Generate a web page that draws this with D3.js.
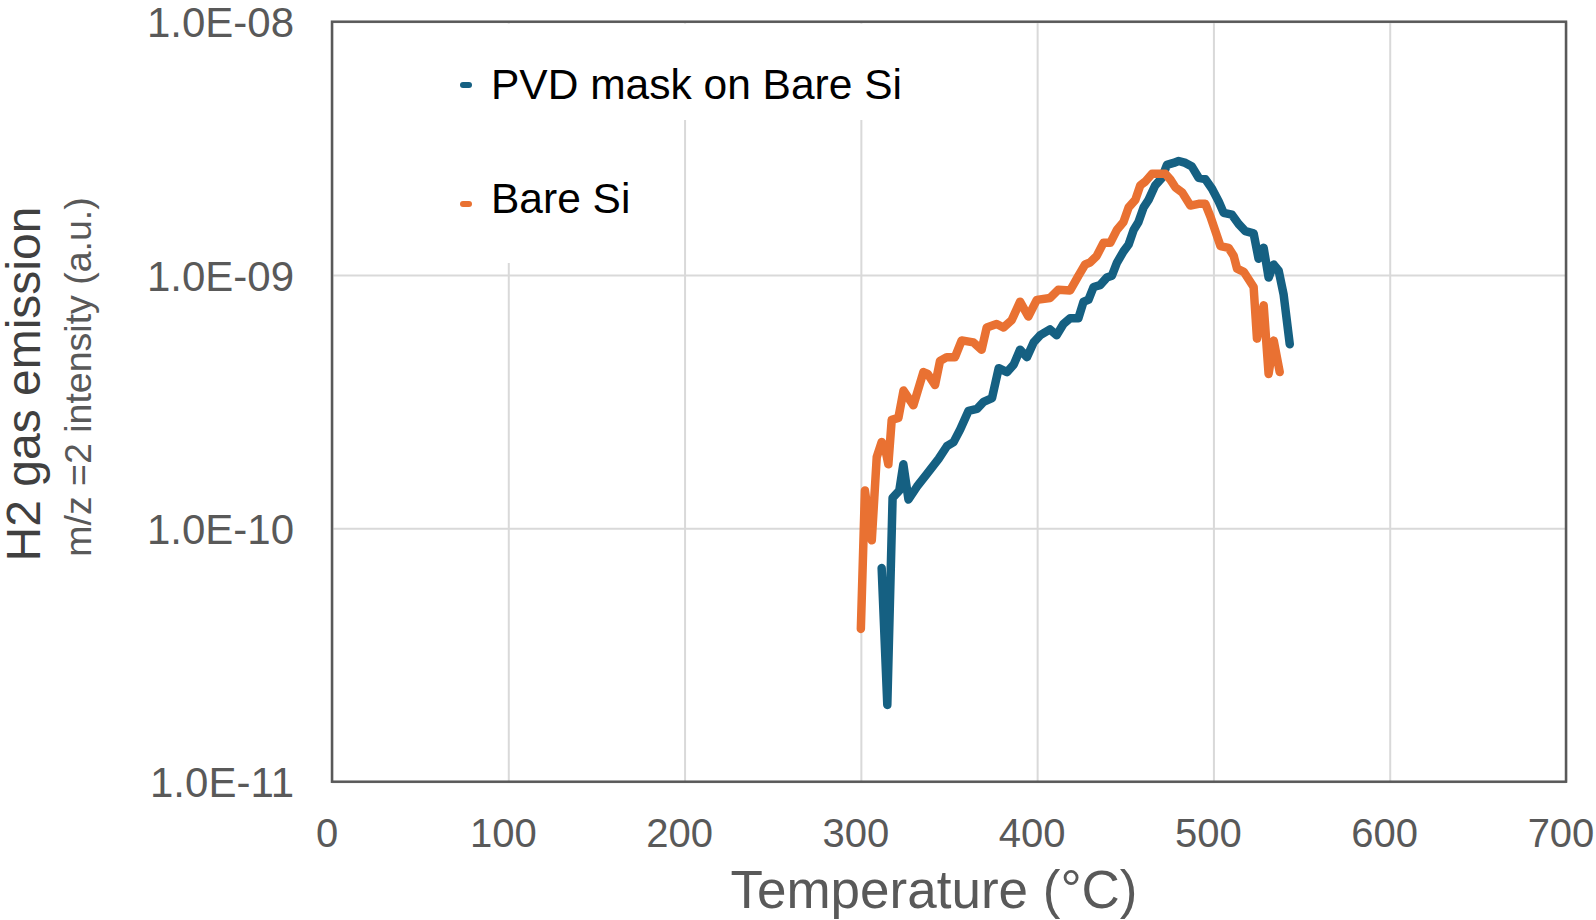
<!DOCTYPE html>
<html>
<head>
<meta charset="utf-8">
<script src="https://cdn.jsdelivr.net/npm/d3@7"></script>
<style>
	body { margin: 0; background: #fff; }
	svg text { font-family: Arial, "Liberation Sans", sans-serif; }
</style>
</head>
<body>
<div class="vis"></div>
<script>
// series: temperature (°C) and m/z=2 intensity (a.u.)
var bareTemp = [300, 302.3, 306.2, 309, 311.8, 313.5, 315.6, 317.5, 321.3, 324.2, 329.8, 335.5, 337.9, 342.1, 344.9,
	348.7, 353.4, 357.2, 363.8, 368.5, 371.4, 377, 380.9, 385.6, 390.3, 395, 399.8, 407.3, 412, 418.7, 423.4, 427.2,
	430, 433.8, 437.6, 441.5, 445.3, 449, 451.9, 455.7, 458.5, 461.4, 465.2, 469.9, 472.7, 475.6, 478.4, 482.2,
	486.9, 491.6, 495.4, 498.3, 504, 508.6, 511.5, 513.4, 517.2, 522.8, 524.7, 528.5, 531.3, 534.2, 537.6];
var bareVal = [4.01e-11, 1.41e-10, 8.97e-11, 1.91e-10, 2.19e-10, 2.11e-10, 1.79e-10, 2.68e-10, 2.73e-10, 3.50e-10,
	3.06e-10, 4.14e-10, 4.07e-10, 3.68e-10, 4.58e-10, 4.74e-10, 4.74e-10, 5.52e-10, 5.42e-10, 5.07e-10, 6.21e-10,
	6.41e-10, 6.21e-10, 6.64e-10, 7.85e-10, 6.86e-10, 7.98e-10, 8.11e-10, 8.75e-10, 8.69e-10, 9.93e-10, 1.10e-9,
	1.12e-9, 1.19e-9, 1.34e-9, 1.34e-9, 1.51e-9, 1.62e-9, 1.85e-9, 1.98e-9, 2.26e-9, 2.34e-9, 2.51e-9, 2.51e-9,
	2.51e-9, 2.38e-9, 2.22e-9, 2.12e-9, 1.88e-9, 1.91e-9, 1.91e-9, 1.70e-9, 1.30e-9, 1.28e-9, 1.19e-9, 1.06e-9,
	1.03e-9, 8.97e-10, 5.61e-10, 7.59e-10, 4.07e-10, 5.51e-10, 4.14e-10];

var pvdTemp = [311.8, 315, 318, 321.8, 324.1, 327, 331.8, 337.5, 344.1, 348.8, 352.6, 356.4, 361.1, 365.9, 369.6,
	374.4, 378.2, 382.9, 386.7, 390.3, 394.2, 398, 401.8, 407.3, 411.1, 414.9, 418.7, 423.4, 426.3, 429.1, 432,
	435.7, 439.5, 442.4, 445.3, 449, 451.9, 454.8, 457.5, 460.4, 463.2, 467, 470.8, 473.6, 477.4, 480.3, 484.1,
	487.8, 491.6, 495.4, 499.2, 503, 505.8, 510.5, 514.3, 518.1, 522.8, 525.6, 528.5, 531.3, 534.2, 537, 539.8, 543.3];
var pvdVal = [6.97e-11, 2.01e-11, 1.32e-10, 1.41e-10, 1.79e-10, 1.30e-10, 1.46e-10, 1.64e-10, 1.88e-10, 2.11e-10,
	2.19e-10, 2.46e-10, 2.91e-10, 2.96e-10, 3.16e-10, 3.27e-10, 4.29e-10, 4.14e-10, 4.43e-10, 5.07e-10, 4.74e-10,
	5.42e-10, 5.79e-10, 6.10e-10, 5.79e-10, 6.41e-10, 6.75e-10, 6.75e-10, 7.85e-10, 7.98e-10, 8.97e-10, 9.12e-10,
	9.77e-10, 9.93e-10, 1.12e-9, 1.24e-9, 1.32e-9, 1.51e-9, 1.62e-9, 1.85e-9, 1.98e-9, 2.26e-9, 2.42e-9, 2.72e-9,
	2.77e-9, 2.82e-9, 2.77e-9, 2.68e-9, 2.42e-9, 2.39e-9, 2.19e-9, 1.95e-9, 1.76e-9, 1.73e-9, 1.59e-9, 1.49e-9,
	1.46e-9, 1.16e-9, 1.28e-9, 9.77e-10, 1.10e-9, 1.04e-9, 8.39e-10, 5.33e-10];

var xTicks = [0, 100, 200, 300, 400, 500, 600, 700];
var yTicks = [1e-11, 1e-10, 1e-9, 1e-8];
var seriesNames = ['PVD mask on Bare Si', 'Bare Si'];
var seriesColors = ['#156082', '#e97132'];

var margin = {top: 21.7, right: 30, bottom: 138.3, left: 332};
var width = 1596 - margin.left - margin.right,
	height = 920 - margin.top - margin.bottom;

var svg = d3.select('.vis').append('svg')
	.attr('width', 1596)
	.attr('height', 920);

var chart = svg.append('g')
	.attr('transform', 'translate(' + margin.left + ',' + margin.top + ')');

var scaleX = d3.scaleLinear().domain([0, 700]).range([0, width]);
var scaleY = d3.scaleLog().domain([1e-11, 1e-8]).range([height, 0]);

// gridlines
chart.append('g')
	.attr('class', 'grid')
	.attr('transform', 'translate(0,' + height + ')')
	.call(d3.axisBottom(scaleX).tickValues(xTicks).tickSize(-height).tickFormat(''));
chart.append('g')
	.attr('class', 'grid')
	.call(d3.axisLeft(scaleY).tickValues(yTicks).tickSize(-width).tickFormat(''));
chart.selectAll('.grid .domain').remove();
chart.selectAll('.grid line')
	.attr('stroke', '#d9d9d9')
	.attr('stroke-width', 2);

// legend boxes hide the gridlines behind the entries
chart.append('rect')
	.attr('x', 440 - margin.left).attr('y', 2)
	.attr('width', 470).attr('height', 118 - margin.top)
	.attr('fill', '#fff');
chart.append('rect')
	.attr('x', 440 - margin.left).attr('y', 118 - margin.top)
	.attr('width', 240).attr('height', 145)
	.attr('fill', '#fff');

// frame
chart.append('rect')
	.attr('width', width)
	.attr('height', height)
	.attr('fill', 'none')
	.attr('stroke', '#595959')
	.attr('stroke-width', 2.5);

// tick labels
var xAxis = chart.append('g')
	.attr('transform', 'translate(0,' + height + ')')
	.call(d3.axisBottom(scaleX).tickValues(xTicks).tickSize(0).tickPadding(0).tickFormat(d3.format('d')));
xAxis.selectAll('text')
	.attr('y', 65)
	.attr('dy', 0)
	.attr('dx', -5.5)
	.style('font-size', '40px')
	.attr('fill', '#595959');

var yAxis = chart.append('g')
	.call(d3.axisLeft(scaleY).tickValues(yTicks).tickSize(0).tickPadding(0)
		.tickFormat(function(d) { return '1.0E-' + d3.format('02d')(Math.round(-Math.log10(d))); }));
yAxis.selectAll('text')
	.attr('x', -38)
	.attr('dy', '0.36em')
	.style('font-size', '42px')
	.attr('fill', '#595959');
chart.selectAll('.domain').remove();

// lines
var line = d3.line()
	.x(function(d) { return scaleX(d[0]); })
	.y(function(d) { return scaleY(d[1]); });

var series = [d3.zip(pvdTemp, pvdVal), d3.zip(bareTemp, bareVal)];

chart.selectAll('.series')
	.data(series)
	.enter().append('path')
	.attr('class', 'series')
	.attr('d', line)
	.attr('fill', 'none')
	.attr('stroke', function(d, i) { return seriesColors[i]; })
	.attr('stroke-width', 8.5)
	.attr('stroke-linejoin', 'round')
	.attr('stroke-linecap', 'round');

// legend
var legendY = [85, 204];
var legendBase = [99, 213];
var legend = svg.selectAll('.legend')
	.data(seriesNames)
	.enter().append('g')
	.attr('class', 'legend');
legend.append('line')
	.attr('x1', 463).attr('x2', 469)
	.attr('y1', function(d, i) { return legendY[i]; })
	.attr('y2', function(d, i) { return legendY[i]; })
	.attr('stroke', function(d, i) { return seriesColors[i]; })
	.attr('stroke-width', 6)
	.attr('stroke-linecap', 'round');
legend.append('text')
	.attr('x', 491)
	.attr('y', function(d, i) { return legendBase[i]; })
	.style('font-size', '42.5px')
	.attr('fill', '#000')
	.text(function(d) { return d; });

// axis titles
svg.append('text')
	.attr('x', 934)
	.attr('y', 908)
	.attr('text-anchor', 'middle')
	.style('font-size', '53px')
	.attr('fill', '#595959')
	.text('Temperature (°C)');

svg.append('text')
	.attr('transform', 'translate(40,384) rotate(-90)')
	.attr('text-anchor', 'middle')
	.style('font-size', '48px')
	.attr('fill', '#404040')
	.text('H2 gas emission');

svg.append('text')
	.attr('transform', 'translate(91,377) rotate(-90)')
	.attr('text-anchor', 'middle')
	.style('font-size', '37.5px')
	.attr('fill', '#595959')
	.text('m/z =2 intensity (a.u.)');
</script>
</body>
</html>
